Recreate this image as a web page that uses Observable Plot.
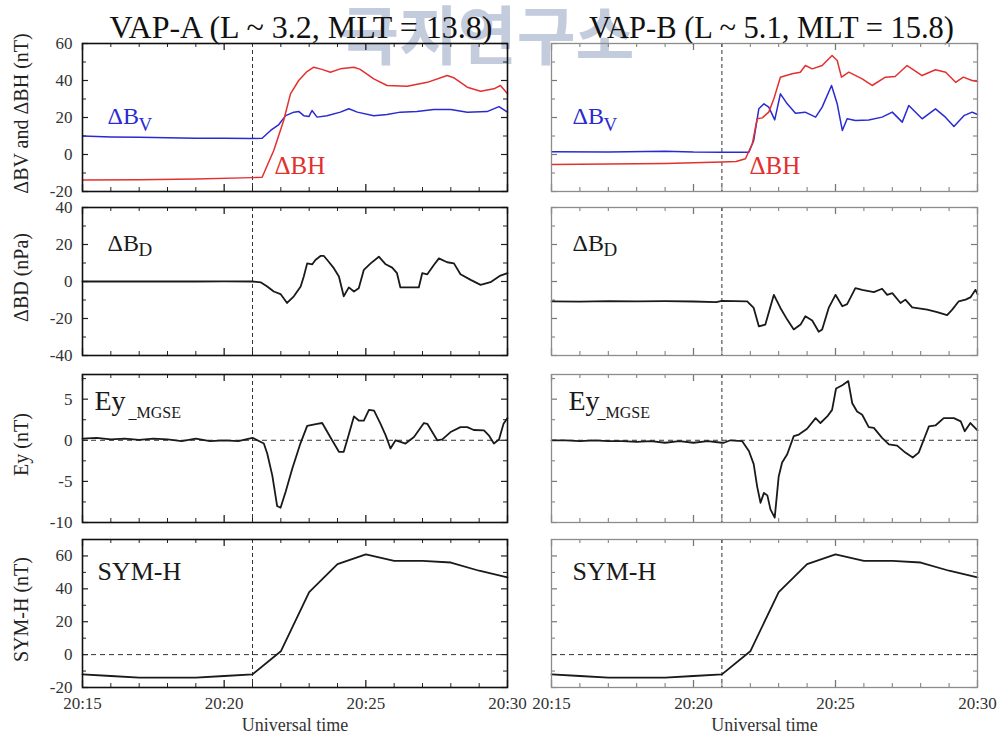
<!DOCTYPE html>
<html>
<head>
<meta charset="utf-8">
<script src="https://cdn.jsdelivr.net/npm/d3@7"></script>
<script src="https://cdn.jsdelivr.net/npm/@observablehq/plot@0.6"></script>
<style>
  body { margin: 0; background: #fff; }
  #fig { position: relative; width: 1001px; height: 740px; overflow: hidden; background: #fff; }
  #fig > .cell { position: absolute; }
  #fig > .cell svg text { font-family: 'Liberation Serif', 'Times New Roman', serif; }
  #stamp { position: absolute; left: 0; top: 0; }
</style>
</head>
<body>
<div id="fig"></div>
<script>
// Time is in minutes after 20:00 UT; every series is a list of [minute, value].

// VAP-A, ΔBV and ΔBH (nT)
const vapA_dBV = [[15,10],[16,9.5],[17,9.3],[18,9],[19,8.8],[20,8.8],[21,8.7],[21.34,8.8],[21.64,13],[21.93,16.2],[22.17,21],[22.46,22.9],[22.63,23.3],[22.81,21],[22.99,20.5],[23.1,23.8],[23.28,20.2],[23.63,21],[24.1,22.9],[24.4,24.7],[24.7,22.9],[25.28,21],[25.75,21.6],[26.22,22.9],[26.8,23.3],[27.4,24.3],[28,24.3],[28.58,22.9],[29.28,23.2],[29.7,25.9],[30,22.9]];
const vapA_dBH = [[15,-13.8],[17,-13.6],[19,-13.2],[21,-12.5],[21.34,-12.3],[21.75,2.2],[22.1,18.4],[22.34,32.8],[22.63,40],[22.9,44.5],[23.16,47.2],[23.45,46],[23.75,44.5],[24.1,46.3],[24.58,47.2],[24.8,46],[25.28,40.9],[25.75,37.3],[26.46,36.9],[27.17,39],[27.87,42.7],[28.1,41.5],[28.58,36.4],[29.05,34.2],[29.52,35.5],[29.75,37.3],[30,32.8]];
// VAP-B, ΔBV and ΔBH (nT)
const vapB_dBV = [[15,1.5],[17,1.3],[19,1.8],[20,1.3],[21,1.2],[21.95,1.2],[22.12,7.6],[22.3,24.7],[22.48,27.4],[22.65,25.6],[22.86,18.7],[23.06,32.8],[23.3,27.4],[23.59,22.3],[23.93,22.9],[24.3,20.2],[24.53,25.6],[24.86,37.3],[25.06,27.4],[25.24,13],[25.41,19.3],[25.7,18.4],[26.17,18.7],[26.64,20.2],[27,22.9],[27.35,17.5],[27.58,26.5],[28.05,19.3],[28.52,24.7],[28.87,20.2],[29.17,15.1],[29.52,21],[29.81,22.9],[30,21.6]];
const vapB_dBH = [[15,-5.4],[17,-5.2],[19,-4.8],[21,-4.1],[21.5,-3.8],[21.83,-2.3],[22.07,5.8],[22.24,19.3],[22.42,19.8],[22.65,22.9],[22.83,30.1],[23.06,41.8],[23.47,43.6],[23.76,44.5],[23.94,48.1],[24.18,46.3],[24.53,48.1],[24.88,53.5],[25.06,50.8],[25.21,41.8],[25.47,44.5],[25.94,40.9],[26.29,37.3],[26.76,41.8],[27.1,42.2],[27.52,48.1],[28.05,42.7],[28.52,45.8],[28.88,44.5],[29.23,39],[29.5,41.8],[29.81,40],[30,39.5]];

// ΔBD
const vapA_dBD = [[15,0],[17,0],[19,0],[20,0.1],[21,0],[21.3,-0.5],[21.52,-2.7],[21.75,-5.4],[21.99,-6.8],[22.22,-11.6],[22.46,-8],[22.7,-2.7],[22.81,2.7],[22.93,9.8],[23.11,9.3],[23.22,11.6],[23.4,13.8],[23.52,13.8],[23.69,10.7],[23.87,7.2],[24.05,2.7],[24.22,-8],[24.4,-3.2],[24.58,-5.4],[24.75,-3.6],[24.93,6.3],[25.17,9.8],[25.46,13.4],[25.7,9.3],[25.93,7.5],[26.1,4.5],[26.22,-3.2],[26.87,-3.2],[26.99,4.5],[27.17,3.9],[27.4,8.9],[27.58,12.5],[27.87,10.4],[28.11,9.8],[28.34,3.9],[28.7,0.9],[29.05,-1.8],[29.4,-0.4],[29.75,3.2],[30,4.5]];
const vapB_dBD = [[15,-10.7],[16,-10.9],[17,-10.6],[18,-10.7],[19,-10.6],[20,-10.8],[20.8,-11.2],[21,-10.5],[21.89,-10.7],[22.12,-14.3],[22.3,-24.2],[22.53,-23.3],[22.83,-7.2],[23.06,-14.3],[23.3,-20.6],[23.53,-25.9],[23.77,-23.3],[23.94,-18.8],[24.18,-21.1],[24.41,-27.2],[24.53,-25.9],[24.76,-14.3],[25,-7.2],[25.24,-13.4],[25.41,-12.2],[25.7,-3.6],[25.94,-4.5],[26.35,-5.7],[26.64,-3.9],[26.82,-7.2],[27,-6.3],[27.29,-11.6],[27.46,-9.8],[27.7,-14],[28.23,-15.2],[28.58,-16.5],[28.93,-18.2],[29.11,-15.2],[29.34,-10.7],[29.58,-9.8],[29.75,-8.6],[29.93,-4.5],[30,-6.8]];

// Ey (MGSE)
const vapA_Ey = [[15,0.2],[15.5,0.3],[16,0.1],[16.5,0.2],[17,0.05],[17.5,0.2],[18,0.1],[18.5,-0.1],[19,0.2],[19.5,-0.1],[20,0],[20.5,-0.1],[21,0.3],[21.4,-0.4],[21.52,-1.6],[21.7,-4.3],[21.87,-8],[21.99,-8.2],[22.17,-6.25],[22.4,-3.5],[22.69,-0.4],[22.93,1.76],[23.28,2],[23.46,2.1],[23.81,0],[24.05,-1.4],[24.22,-1.4],[24.34,0],[24.58,2.9],[24.75,2.4],[24.93,2.4],[25.11,3.7],[25.29,3.6],[25.52,2],[25.7,0.6],[25.87,-1],[26.05,0],[26.22,-0.2],[26.4,-0.4],[26.7,0.4],[27.05,2.1],[27.17,2],[27.52,0],[27.7,0.1],[27.99,1],[28.34,1.6],[28.58,1.6],[28.81,1.25],[29.17,1.2],[29.34,0.6],[29.52,-0.4],[29.7,0.1],[29.86,2],[30,2.7]];
const vapB_Ey = [[15,0],[15.5,0],[16,-0.1],[16.5,0],[17,-0.1],[17.5,-0.1],[18,-0.2],[18.5,-0.1],[19,-0.3],[19.5,-0.1],[20,-0.3],[20.5,-0.1],[21,-0.3],[21.07,-0.3],[21.3,0],[21.71,-0.1],[21.95,-1.3],[22.12,-2.9],[22.24,-5.6],[22.36,-7.6],[22.48,-6.4],[22.6,-6.7],[22.71,-8.4],[22.86,-9.4],[23,-4.4],[23.12,-2.7],[23.3,-1.7],[23.53,0.5],[23.71,0.7],[24,1.4],[24.3,2.7],[24.47,2.1],[24.71,2.9],[24.88,3.7],[25.02,6.3],[25.24,6.7],[25.45,7.2],[25.59,4.5],[25.76,3.5],[25.94,3.1],[26.17,1.6],[26.35,1.5],[26.64,0.3],[26.88,-0.5],[27.17,-0.65],[27.46,-1.5],[27.72,-2.1],[27.93,-1.5],[28.11,0.1],[28.29,1.7],[28.52,1.8],[28.81,2.7],[29.17,2.7],[29.41,2.3],[29.55,1.1],[29.75,2.1],[30,1.2]];

// SYM-H (nT), one-minute values 20:15 – 20:30
const symhMinutes = d3.range(15, 31);
const symhValues = [-12, -13, -14, -14, -14, -13, -12, 2, 38, 55, 61, 57, 57, 56, 51, 47];
const symh = symhMinutes.map((m, i) => [m, symhValues[i]]);

// Axis ticks and labels
const minuteTicks = d3.range(15, 31);
const timeLabelTicks = [15, 20, 25, 30];
const onsetMinute = 21;
const titles = ["VAP-A (L ~ 3.2, MLT = 13.8)", "VAP-B (L ~ 5.1, MLT = 15.8)"];
const rowNames = ["ΔBV and ΔBH (nT)", "ΔBD (nPa)", "Ey (nT)", "SYM-H (nT)"];
const rowDomains = [[-20, 60], [-40, 40], [-10, 8], [-20, 70]];
const rowMinor = [d3.range(-20, 61, 10), d3.range(-40, 41, 10), d3.range(-10, 7.6, 2.5), d3.range(-20, 71, 10)];
const rowMajor = [[-20, 0, 20, 40, 60], [-40, -20, 0, 20, 40], [-10, -5, 0, 5], [-20, 0, 20, 40, 60]];

const RED = "#e3302f", BLUE = "#2a2ad2", INK = "#1a1a1a";
const SERIF = "Liberation Serif";

// vertical layout: svg top, marginTop, marginBottom (frame height 148)
const FH = 148;
const rowBoxes = [
  {top: 0, mt: 43, mb: 8},
  {top: 199, mt: 8, mb: 8},
  {top: 363, mt: 11, mb: 8},
  {top: 530, mt: 9, mb: 53}
];
const colBoxes = [
  {left: 0, width: 520, ml: 82, mr: 13},
  {left: 520, width: 481, ml: 31, mr: 24}
];

const seriesByCell = [
  [[{d: vapA_dBV, c: BLUE}, {d: vapA_dBH, c: RED}], [{d: vapB_dBV, c: BLUE}, {d: vapB_dBH, c: RED}]],
  [[{d: vapA_dBD, c: INK}], [{d: vapB_dBD, c: INK}]],
  [[{d: vapA_Ey, c: INK}], [{d: vapB_Ey, c: INK}]],
  [[{d: symh, c: INK}], [{d: symh, c: INK}]]
];

function label(txt, opts) {
  return Plot.text([txt], {text: d => d, frameAnchor: "top-left", textAnchor: "start", lineAnchor: "bottom", fontFamily: SERIF, ...opts});
}

// in-panel names; dx/dy measured from the frame's top-left corner
function panelNames(row, col) {
  const xo = col === 0 ? 25 : 21;
  if (row === 0) return [
    label("ΔB", {dx: xo, dy: 80, fontSize: 24, fill: BLUE}),
    label("V", {dx: xo + 31, dy: 87, fontSize: 19, fill: BLUE}),
    label("ΔBH", {dx: col === 0 ? 192 : 198, dy: 130, fontSize: 25, fill: RED})
  ];
  if (row === 1) return [
    label("ΔB", {dx: xo, dy: 43, fontSize: 24, fill: INK}),
    label("D", {dx: xo + 31, dy: 48, fontSize: 19, fill: INK})
  ];
  if (row === 2) return [
    label("Ey", {dx: col === 0 ? 12 : 17, dy: 35, fontSize: 28, fill: INK}),
    label("_MGSE", {dx: col === 0 ? 46 : 46, dy: 43, fontSize: 16, fill: INK})
  ];
  return [label("SYM-H", {dx: col === 0 ? 15 : 21, dy: 40, fontSize: 26, fill: INK})];
}

function panel(row, col) {
  const rb = rowBoxes[row], cb = colBoxes[col];
  const left = col === 0, bottom = row === 3;
  const FW = cb.width - cb.ml - cb.mr;
  const edge = left ? "#111" : "#8c8c8c";
  const tickC = left ? "#222" : "#777";
  const minorX = minuteTicks.filter(m => !timeLabelTicks.includes(m));
  const minorY = rowMinor[row].filter(v => !rowMajor[row].includes(v));
  const marks = [
    // inward ticks on all four sides
    Plot.ruleX(minorX, {insetBottom: FH - 4, stroke: tickC}),
    Plot.ruleX(minorX, {insetTop: FH - 4, stroke: tickC}),
    Plot.ruleX(timeLabelTicks, {insetBottom: FH - 7, stroke: tickC, strokeWidth: 1.3}),
    Plot.ruleX(timeLabelTicks, {insetTop: FH - 7, stroke: tickC, strokeWidth: 1.3}),
    Plot.ruleY(minorY, {insetRight: FW - 4, stroke: tickC}),
    Plot.ruleY(minorY, {insetLeft: FW - 4, stroke: tickC}),
    Plot.ruleY(rowMajor[row], {insetRight: FW - 6, stroke: tickC, strokeWidth: 1.2}),
    Plot.ruleY(rowMajor[row], {insetLeft: FW - 6, stroke: tickC, strokeWidth: 1.2}),
    // storm sudden commencement onset
    Plot.ruleX([onsetMinute], {stroke: "#333", strokeWidth: 1, strokeDasharray: "4,3"})
  ];
  if (row >= 2) marks.push(Plot.ruleY([0], {stroke: "#333", strokeWidth: 1, strokeDasharray: "5,4"}));
  for (const s of seriesByCell[row][col]) {
    marks.push(Plot.line(s.d, {x: d => d[0], y: d => d[1], stroke: s.c, strokeWidth: s.c === INK ? 1.8 : 1.5, strokeLinejoin: "round"}));
  }
  marks.push(...panelNames(row, col));
  if (left) {
    marks.push(Plot.axisY(rowMajor[row], {tickSize: 0, tickPadding: 10, fontSize: 17, color: "#333", tickFormat: d => String(d)}));
    marks.push(Plot.text([rowNames[row]], {text: d => d, frameAnchor: "left", textAnchor: "middle", dx: -(cb.ml - 21), dy: -4, rotate: -90, fontSize: 20, fill: "#222", fontFamily: SERIF}));
  }
  if (row === 0) {
    marks.push(Plot.text([titles[col]], {text: d => d, frameAnchor: "top", dx: col === 0 ? 6 : 7, dy: -6, lineAnchor: "bottom", fontSize: col === 0 ? 32 : 30.5, fill: "#111", fontFamily: SERIF}));
  }
  if (bottom) {
    marks.push(Plot.axisX(timeLabelTicks, {tickSize: 0, tickPadding: 9, fontSize: 17, color: "#333", tickFormat: d => `20:${d}`}));
    marks.push(Plot.text(["Universal time"], {text: d => d, frameAnchor: "bottom", dy: 43, fontSize: 18, fill: "#333", fontFamily: SERIF}));
  }
  marks.push(Plot.frame({stroke: edge, strokeWidth: left ? 1.6 : 1.3}));

  return Plot.plot({
    width: cb.width,
    height: rb.mt + FH + rb.mb,
    marginLeft: cb.ml, marginRight: cb.mr,
    marginTop: rb.mt, marginBottom: rb.mb,
    style: {background: "transparent", overflow: "visible", fontFamily: SERIF},
    x: {domain: [15, 30], ...(bottom ? {} : {axis: null})},
    y: {domain: rowDomains[row], ...(left ? {} : {axis: null})},
    marks
  });
}

const fig = document.getElementById("fig");

// institute stamp lying behind the figure
const stamp = d3.select(fig).append("svg").attr("id", "stamp").attr("width", 1001).attr("height", 80);
stamp.append("text")
  .attr("x", 340).attr("y", 59)
  .attr("font-family", "'Noto Sans CJK KR', sans-serif")
  .attr("font-weight", 700)
  .attr("font-size", 64)
  .attr("fill", "#b9c3d6")
  .attr("fill-opacity", 0.85)
  .text("극지연구소");

for (let r = 0; r < 4; r++) {
  for (let c = 0; c < 2; c++) {
    const cell = document.createElement("div");
    cell.className = "cell";
    cell.style.left = colBoxes[c].left + "px";
    cell.style.top = rowBoxes[r].top + "px";
    cell.appendChild(panel(r, c));
    fig.appendChild(cell);
  }
}
</script>
</body>
</html>
